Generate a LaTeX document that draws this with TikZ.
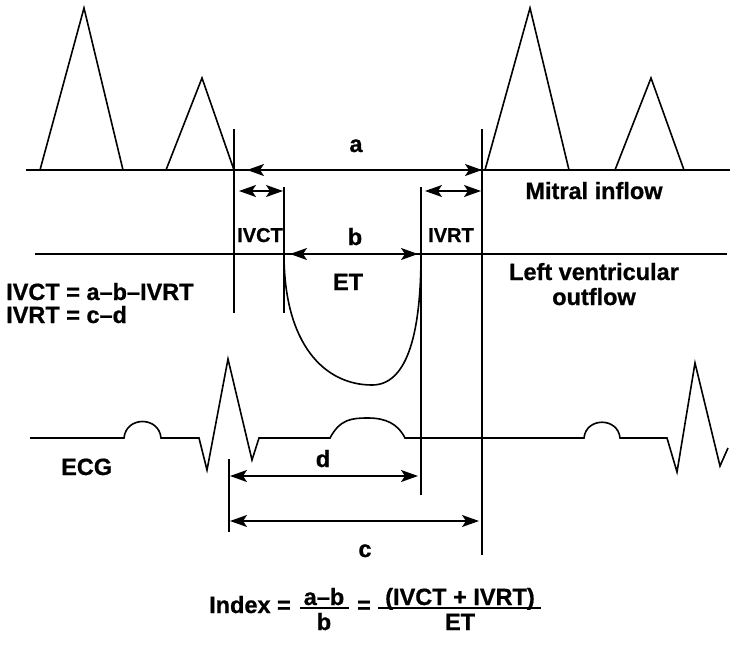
\documentclass[tikz,border=0pt]{standalone}
\usepackage{fontspec}
\setmainfont{Liberation Sans}[BoldFeatures={FakeBold=0.8}]
\usetikzlibrary{arrows.meta}
\tikzset{
  ln/.style={line width=1.6pt, line join=miter},
  dim/.style={line width=1.6pt, {Stealth[length=17pt,width=12pt,inset=4pt]}-{Stealth[length=17pt,width=12pt,inset=4pt]}},
  lab/.style={font=\fontsize{23.5}{25}\selectfont\bfseries, inner sep=0pt},
  slab/.style={font=\fontsize{20}{22}\selectfont\bfseries, inner sep=0pt},
}
\begin{document}
\begin{tikzpicture}[x=1pt,y=-1pt]
\useasboundingbox (0,0) rectangle (744,645);
% baselines
\draw[ln] (26,170) -- (730,170);
\draw[ln] (35,254) -- (727,254);
% mitral triangles
\draw[ln] (40,170) -- (84,8) -- (123,170);
\draw[ln] (166,170) -- (202,78) -- (234,170);
\draw[ln] (485,170) -- (530,8) -- (569,170);
\draw[ln] (615,170) -- (651,78) -- (684,170);
% vertical markers
\draw[ln] (234,129) -- (234,313);
\draw[ln] (284,187) -- (284,313);
\draw[ln] (421,187) -- (421,495);
\draw[ln] (482,129) -- (482,555);
\draw[ln] (229,459) -- (229,532);
% ET curve
\draw[ln] (284,254) .. controls (284,345) and (325,385) .. (372,385)
  .. controls (405,385) and (421,340) .. (421,254);
% ECG
\draw[ln] (30,438) -- (124,438) .. controls (126,416) and (159,416) .. (161,438)
  -- (199,438) -- (207,470) -- (228,359) -- (252,460) -- (259,438) -- (330,438)
  .. controls (340,419) and (352,418) .. (368,418)
  .. controls (386,418) and (398,424) .. (405,438)
  -- (584,438) .. controls (586,417) and (618,417) .. (620,438)
  -- (667,438) -- (677,472) -- (695,363) -- (720,466) -- (728,448);
% dimension coordinates
\coordinate (aL) at (247,170); \coordinate (aR) at (482,170);
\coordinate (bL) at (290,254); \coordinate (bR) at (418,254);
\coordinate (ivcL) at (239,191); \coordinate (ivcR) at (283,191);
\coordinate (ivrL) at (425,191); \coordinate (ivrR) at (481,191);
\coordinate (dL) at (230,476); \coordinate (dR) at (418,476);
\coordinate (cL) at (230,521); \coordinate (cR) at (479,521);
\draw[dim] (aL) -- (aR);
\draw[dim] (bL) -- (bR);
\draw[dim] (ivcL) -- (ivcR);
\draw[dim] (ivrL) -- (ivrR);
\draw[dim] (dL) -- (dR);
\draw[dim] (cL) -- (cR);
% labels
\node[lab, anchor=base] (la) at (356,152) {a};
\node[lab, anchor=base] (lb) at (355,245) {b};
\node[lab, anchor=base] (lc) at (365,557) {c};
\node[lab, anchor=base] (ld) at (323,467) {d};
\node[lab, anchor=base] (let) at (348,290) {ET};
\node[slab, anchor=base] (livct) at (260,242) {IVCT};
\node[slab, anchor=base] (livrt) at (451,242) {IVRT};
\node[lab, anchor=base] (mitral) at (594,199) {Mitral inflow};
\node[lab, anchor=base] (lv1) at (594,280) {Left ventricular};
\node[lab, anchor=base] (lv2) at (594,305) {outflow};
\node[lab, anchor=base west] (eq1) at (6,300) {IVCT = a–b–IVRT};
\node[lab, anchor=base west] (eq2) at (6,323) {IVRT = c–d};
\node[lab, anchor=base west] (ecg) at (61,475) {ECG};
% index formula
\node[lab, anchor=base west] (idx) at (209,613) {Index =};
\node[lab, anchor=base] (n1) at (324,605) {a–b};
\node[lab, anchor=base] (d1) at (324,630) {b};
\coordinate (f1L) at (300,608); \coordinate (f1R) at (349,608);
\draw[line width=2pt] (f1L) -- (f1R);
\node[lab, anchor=base] (eqs) at (364,613) {=};
\node[lab, anchor=base] (n2) at (460,605) {(IVCT + IVRT)};
\node[lab, anchor=base] (d2) at (460,630) {ET};
\coordinate (f2L) at (378,608); \coordinate (f2R) at (541,608);
\draw[line width=2pt] (f2L) -- (f2R);
\end{tikzpicture}
\end{document}
